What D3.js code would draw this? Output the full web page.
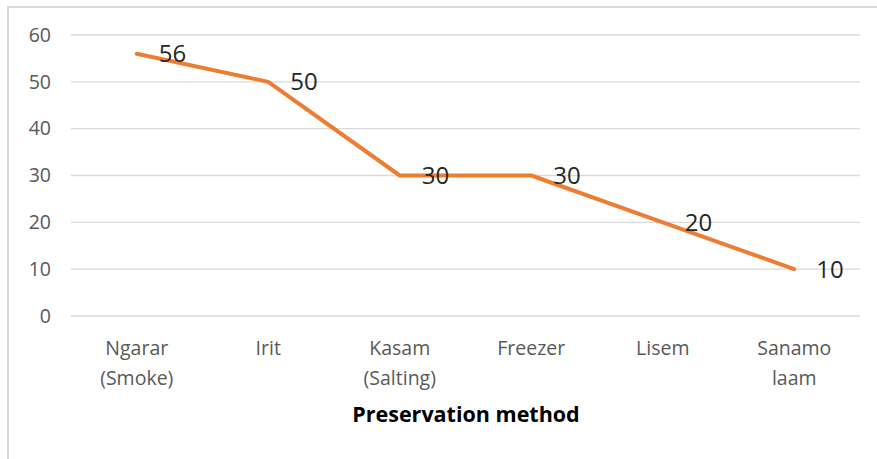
<!DOCTYPE html>
<html>
<head>
<meta charset="utf-8">
<script src="https://cdn.jsdelivr.net/npm/d3@7"></script>
<style>
  html, body { margin: 0; padding: 0; background: #fff; }
  svg { display: block; }
</style>
</head>
<body>
<svg id="chart" width="877" height="459"></svg>
<script>
// Preservation methods and their counts
const categories = [["Ngarar", "(Smoke)"], ["Irit"], ["Kasam", "(Salting)"], ["Freezer"], ["Lisem"], ["Sanamo", "laam"]];
const values = [56, 50, 30, 30, 20, 10];
const yTicks = [0, 10, 20, 30, 40, 50, 60];
const axisTitle = "Preservation method";

const svg = d3.select("#chart");
const font = "'Open Sans', sans-serif";

// outer chart frame
svg.append("rect")
  .attr("x", 8).attr("y", 7)
  .attr("width", 880).attr("height", 470)
  .attr("fill", "none").attr("stroke", "#d9d9d9").attr("stroke-width", 2);

const plot = { left: 71, right: 860, top: 35, bottom: 316 };

const x = d3.scaleBand()
  .domain(d3.range(categories.length))
  .range([plot.left, plot.right]);

const y = d3.scaleLinear()
  .domain([0, 60])
  .range([plot.bottom, plot.top]);

// horizontal gridlines
svg.append("g")
  .selectAll("line")
  .data(yTicks)
  .join("line")
  .attr("x1", plot.left).attr("x2", plot.right)
  .attr("y1", d => y(d)).attr("y2", d => y(d))
  .attr("stroke", "#d9d9d9").attr("stroke-width", 1.3);

// y axis labels
const yAxis = svg.append("g")
  .attr("transform", `translate(${plot.left - 20},0)`)
  .call(d3.axisLeft(y).tickValues(yTicks).tickSize(0).tickPadding(0));
yAxis.select(".domain").remove();
yAxis.selectAll("text")
  .attr("font-family", font).attr("font-size", 19.5)
  .attr("fill", "#595959");

// category labels (multi-line)
const xAxis = svg.append("g")
  .attr("transform", `translate(0,${plot.bottom})`)
  .call(d3.axisBottom(x).tickSize(0).tickFormat(() => ""));
xAxis.select(".domain").remove();
xAxis.selectAll(".tick text").each(function(i) {
  const t = d3.select(this)
    .attr("font-family", font).attr("font-size", 19.5)
    .attr("fill", "#595959")
    .attr("y", 39).attr("dy", null);
  categories[i].forEach((line, k) => {
    t.append("tspan").attr("x", 0).attr("y", 39 + k * 30).text(line);
  });
});

// axis title
svg.append("text")
  .attr("x", 466)
  .attr("y", 422)
  .attr("text-anchor", "middle")
  .attr("font-family", font).attr("font-size", 21.5).attr("font-weight", "bold")
  .attr("fill", "#000")
  .text(axisTitle);

// data line
const line = d3.line()
  .x((d, i) => x(i) + x.bandwidth() / 2)
  .y(d => y(d));

svg.append("path")
  .datum(values)
  .attr("d", line)
  .attr("fill", "none")
  .attr("stroke", "#ED7D31")
  .attr("stroke-width", 4)
  .attr("stroke-linejoin", "round")
  .attr("stroke-linecap", "round");

// value labels to the right of each point
svg.append("g")
  .selectAll("text")
  .data(values)
  .join("text")
  .attr("x", (d, i) => x(i) + x.bandwidth() / 2 + 22)
  .attr("y", d => y(d))
  .attr("dy", "0.36em")
  .attr("font-family", font).attr("font-size", 24)
  .attr("fill", "#262626")
  .text(d => d);
</script>
</body>
</html>
